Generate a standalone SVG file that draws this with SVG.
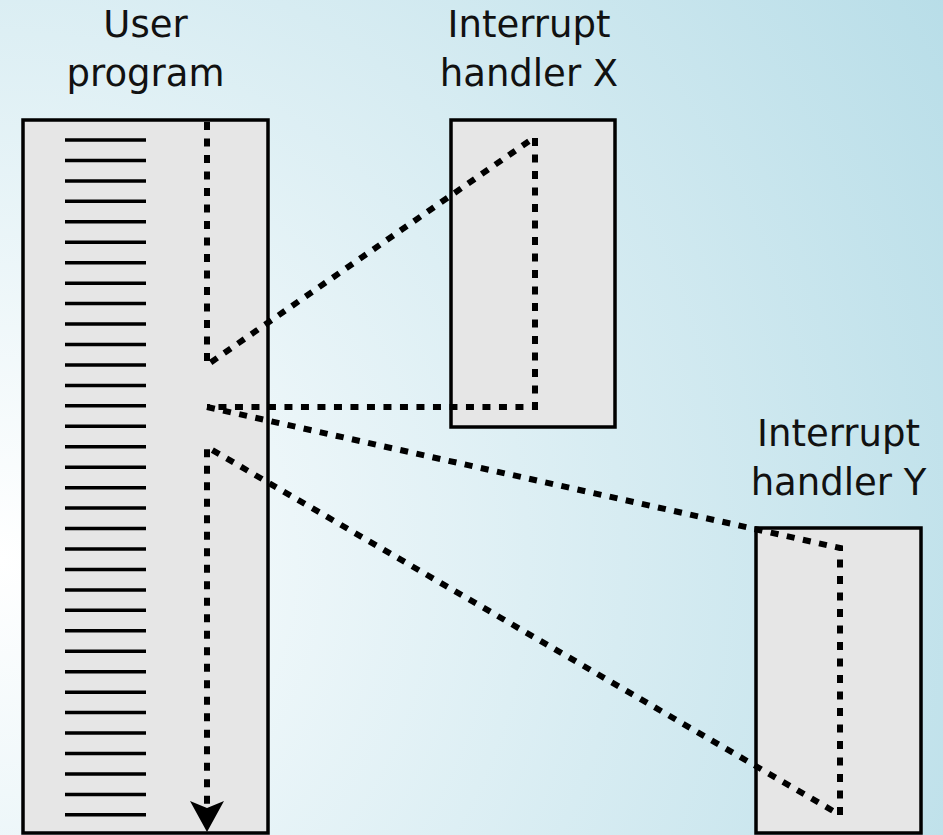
<svg xmlns="http://www.w3.org/2000/svg" width="943" height="835" viewBox="0 0 943 835">
  <defs>
    <radialGradient id="bg" gradientUnits="userSpaceOnUse" cx="0" cy="560" r="1150">
      <stop offset="0" stop-color="#ffffff"/>
      <stop offset="1" stop-color="#b5dce7"/>
    </radialGradient>
    <style>
      .box { fill: #e6e6e6; stroke: #000; stroke-width: 3.5; }
      .label { font-family: "DejaVu Sans", "Liberation Sans", sans-serif; font-size: 37px; fill: #111; text-anchor: middle; }
      .flow { fill: none; stroke: #000; stroke-width: 6; stroke-dasharray: 8 8.5; }
      .code { stroke: #000; stroke-width: 3.5; }
    </style>
  </defs>

  <rect x="0" y="0" width="943" height="835" fill="url(#bg)"/>

  <!-- user program -->
  <g id="user-program">
    <text class="label" x="145.5" y="37">User</text>
    <text class="label" x="145.5" y="86">program</text>
    <rect class="box" x="23" y="120" width="245" height="713"/>
    <g class="code">
      <line x1="65" y1="140" x2="146" y2="140"/>
      <line x1="65" y1="160.45" x2="146" y2="160.45"/>
      <line x1="65" y1="180.9" x2="146" y2="180.9"/>
      <line x1="65" y1="201.35" x2="146" y2="201.35"/>
      <line x1="65" y1="221.8" x2="146" y2="221.8"/>
      <line x1="65" y1="242.25" x2="146" y2="242.25"/>
      <line x1="65" y1="262.7" x2="146" y2="262.7"/>
      <line x1="65" y1="283.15" x2="146" y2="283.15"/>
      <line x1="65" y1="303.6" x2="146" y2="303.6"/>
      <line x1="65" y1="324.05" x2="146" y2="324.05"/>
      <line x1="65" y1="344.5" x2="146" y2="344.5"/>
      <line x1="65" y1="364.95" x2="146" y2="364.95"/>
      <line x1="65" y1="385.4" x2="146" y2="385.4"/>
      <line x1="65" y1="405.85" x2="146" y2="405.85"/>
      <line x1="65" y1="426.3" x2="146" y2="426.3"/>
      <line x1="65" y1="446.75" x2="146" y2="446.75"/>
      <line x1="65" y1="467.2" x2="146" y2="467.2"/>
      <line x1="65" y1="487.65" x2="146" y2="487.65"/>
      <line x1="65" y1="508.1" x2="146" y2="508.1"/>
      <line x1="65" y1="528.55" x2="146" y2="528.55"/>
      <line x1="65" y1="549" x2="146" y2="549"/>
      <line x1="65" y1="569.45" x2="146" y2="569.45"/>
      <line x1="65" y1="589.9" x2="146" y2="589.9"/>
      <line x1="65" y1="610.35" x2="146" y2="610.35"/>
      <line x1="65" y1="630.8" x2="146" y2="630.8"/>
      <line x1="65" y1="651.25" x2="146" y2="651.25"/>
      <line x1="65" y1="671.7" x2="146" y2="671.7"/>
      <line x1="65" y1="692.15" x2="146" y2="692.15"/>
      <line x1="65" y1="712.6" x2="146" y2="712.6"/>
      <line x1="65" y1="733.05" x2="146" y2="733.05"/>
      <line x1="65" y1="753.5" x2="146" y2="753.5"/>
      <line x1="65" y1="773.95" x2="146" y2="773.95"/>
      <line x1="65" y1="794.4" x2="146" y2="794.4"/>
      <line x1="65" y1="814.85" x2="146" y2="814.85"/>
    </g>
  </g>

  <!-- interrupt handler X -->
  <g id="handler-x">
    <text class="label" x="529" y="37">Interrupt</text>
    <text class="label" x="529" y="86">handler X</text>
    <rect class="box" x="451" y="120" width="164" height="307"/>
  </g>

  <!-- interrupt handler Y -->
  <g id="handler-y">
    <text class="label" x="838.5" y="446">Interrupt</text>
    <text class="label" x="838.5" y="495">handler Y</text>
    <rect class="box" x="756" y="528" width="165" height="305"/>
  </g>

  <!-- control flow -->
  <g id="connectors">
    <path class="flow" d="M207,122 V365 L535,137 V407 H207"/>
    <path class="flow" d="M207,407 L840,548 V815 L207,447 V806"/>
    <polygon points="207,832 190,801 207,808 224,801" fill="#000"/>
  </g>
</svg>
